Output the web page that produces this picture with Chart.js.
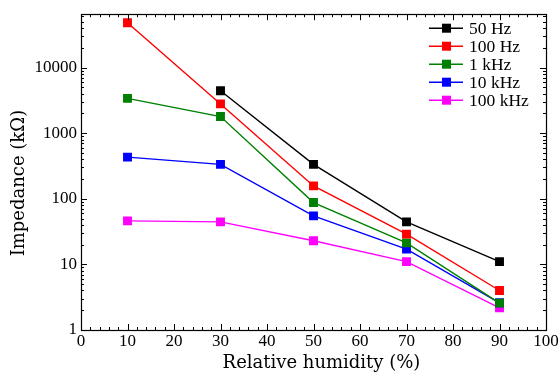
<!DOCTYPE html>
<html>
<head>
<meta charset="utf-8">
<script src="https://cdn.jsdelivr.net/npm/chart.js@4.4.1/dist/chart.umd.min.js"></script>
<style>
    html, body { margin: 0; padding: 0; background: #fff; }
    #wrap { width: 560px; height: 373px; }
</style>
</head>
<body>
<div id="wrap"><canvas id="impedanceChart"></canvas></div>
<script>
// Data
const humidity = [10, 30, 50, 70, 90];
const seriesLabels = ['50 Hz', '100 Hz', '1 kHz', '10 kHz', '100 kHz'];
const seriesColors = ['#000000', '#ff0000', '#008000', '#0000ff', '#ff00ff'];
const z50Hz = [null, 4430, 334, 44.5, 11.0];
const z100Hz = [48200, 2790, 157, 28.9, 4.0];
const z1kHz = [3390, 1790, 87.5, 21.3, 2.57];
const z10kHz = [431, 334, 54.8, 17.1, 2.6];
const z100kHz = [46, 44.5, 22.9, 11.0, 2.18];
const yTickLabels = [1, 10, 100, 1000, 10000];
const xTickLabels = [0, 10, 20, 30, 40, 50, 60, 70, 80, 90, 100];

const allSeries = [z50Hz, z100Hz, z1kHz, z10kHz, z100kHz];
const FONT = "'Liberation Serif', 'Times New Roman', serif";
const TITLE_FONT = "'DejaVu Serif', serif";

const datasets = allSeries.map((values, i) => ({
    label: seriesLabels[i],
    data: humidity.map((h, j) => ({ x: h, y: values[j] })),
    borderColor: seriesColors[i],
    backgroundColor: seriesColors[i],
    borderWidth: 1.4,
    pointStyle: 'rect',
    pointRadius: 6.3,
    pointBorderWidth: 0,
    tension: 0
}));

// Frame, inward ticks on all four sides, axis titles and legend
const framePlugin = {
    id: 'framePlugin',
    afterDraw(chart) {
        const ctx = chart.ctx;
        const area = chart.chartArea;
        const xs = chart.scales.x;
        const ys = chart.scales.y;
        ctx.save();
        ctx.strokeStyle = '#000';
        ctx.lineWidth = 1;

        ctx.beginPath();
        // x ticks (every 2, major every 10)
        for (let v = 0; v <= 100; v += 2) {
            const px = Math.round(xs.getPixelForValue(v)) + 0.5;
            const len = v % 10 === 0 ? 6 : 3;
            ctx.moveTo(px, area.bottom);
            ctx.lineTo(px, area.bottom - len);
            ctx.moveTo(px, area.top);
            ctx.lineTo(px, area.top + len);
        }
        // y ticks (log minor ticks)
        for (let d = 0; d <= 4; d++) {
            for (let m = 1; m <= 9; m++) {
                const v = m * Math.pow(10, d);
                if (v > ys.max) break;
                const py = Math.round(ys.getPixelForValue(v)) + 0.5;
                const len = m === 1 ? 6 : 3;
                ctx.moveTo(area.left, py);
                ctx.lineTo(area.left + len, py);
                ctx.moveTo(area.right, py);
                ctx.lineTo(area.right - len, py);
            }
        }
        ctx.stroke();

        ctx.lineWidth = 1.2;
        ctx.strokeRect(Math.round(area.left) + 0.5, Math.round(area.top) + 0.5,
            Math.round(area.right - area.left), Math.round(area.bottom - area.top));

        // axis titles
        ctx.fillStyle = '#000';
        ctx.font = '18px ' + TITLE_FONT;
        ctx.textAlign = 'center';
        ctx.textBaseline = 'middle';
        ctx.fillText('Relative humidity (%)', (area.left + area.right) / 2 + 8, 363);
        ctx.save();
        ctx.translate(19, (area.top + area.bottom) / 2 + 11);
        ctx.rotate(-Math.PI / 2);
        ctx.fillText('Impedance (k\u03A9)', 0, 0);
        ctx.restore();

        // legend
        ctx.font = '17.5px ' + FONT;
        ctx.textAlign = 'left';
        chart.data.datasets.forEach((ds, i) => {
            const y = area.top + 14 + i * 18;
            const x0 = area.right - 117;
            ctx.strokeStyle = ds.borderColor;
            ctx.lineWidth = 1.4;
            ctx.beginPath();
            ctx.moveTo(x0, y);
            ctx.lineTo(x0 + 34, y);
            ctx.stroke();
            ctx.fillStyle = ds.backgroundColor;
            ctx.fillRect(x0 + 13, y - 4.5, 9, 9);
            ctx.fillStyle = '#000';
            ctx.fillText(ds.label, x0 + 40, y + 1);
        });
        ctx.restore();
    }
};

const impedanceCtx = document.getElementById('impedanceChart').getContext('2d');
const impedanceChart = new Chart(impedanceCtx, {
    type: 'line',
    data: { datasets: datasets },
    options: {
        responsive: true,
        maintainAspectRatio: false,
        animation: false,
        events: [],
        layout: {
            padding: { left: 0, top: 13, right: 14, bottom: 0 }
        },
        plugins: {
            legend: { display: false },
            tooltip: { enabled: false }
        },
        scales: {
            x: {
                type: 'linear',
                min: 0,
                max: 100,
                afterFit: function(scale) { scale.height = 43; },
                grid: { display: false, drawTicks: false },
                border: { display: false },
                ticks: {
                    stepSize: 2,
                    autoSkip: false,
                    maxRotation: 0,
                    padding: 1,
                    color: '#000',
                    font: { family: FONT, size: 17 },
                    callback: function(value) {
                        return xTickLabels.includes(value) ? String(value) : '';
                    }
                }
            },
            y: {
                type: 'logarithmic',
                min: 1,
                max: 65000,
                afterFit: function(scale) { scale.width = 81; },
                grid: { display: false, drawTicks: false },
                border: { display: false },
                ticks: {
                    autoSkip: false,
                    padding: 4,
                    color: '#000',
                    font: { family: FONT, size: 17 },
                    callback: function(value) {
                        return yTickLabels.includes(value) ? String(value) : '';
                    }
                }
            }
        }
    },
    plugins: [framePlugin]
});
</script>
</body>
</html>
